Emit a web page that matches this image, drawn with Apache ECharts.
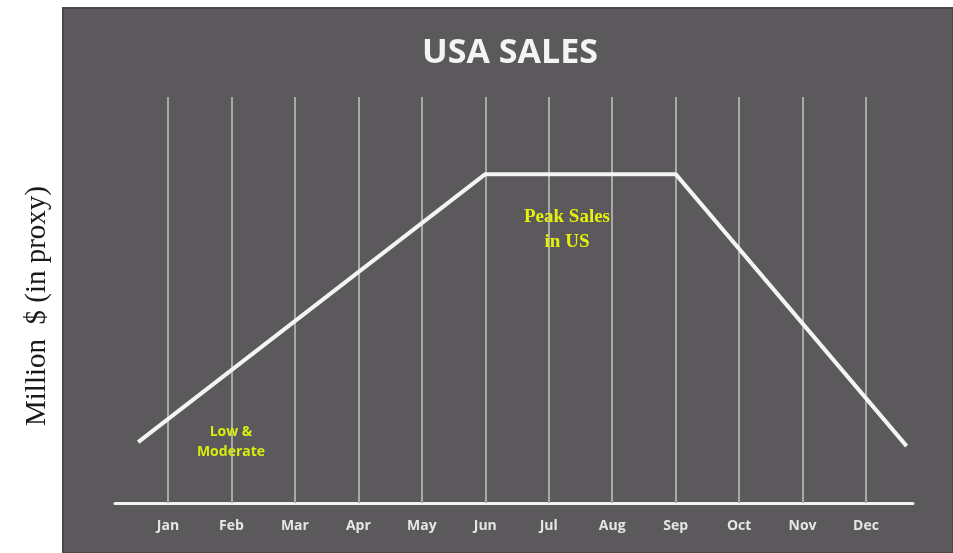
<!DOCTYPE html>
<html>
<head>
<meta charset="utf-8">
<style>
  html, body { margin: 0; padding: 0; background: #ffffff; }
  #chart { width: 953px; height: 553px; }
</style>
<script src="https://cdn.jsdelivr.net/npm/echarts@6/dist/echarts.min.js"></script>
</head>
<body>
<div id="chart"></div>
<script>
// Month labels along the bottom axis
const months = ['Jan', 'Feb', 'Mar', 'Apr', 'May', 'Jun', 'Jul', 'Aug', 'Sep', 'Oct', 'Nov', 'Dec'];
// Month positions (index) where the vertical guides sit
const monthIndex = [0, 1, 2, 3, 4, 5, 6, 7, 8, 9, 10, 11];
// Sales trend: month position (fractional = between months) and proxy value
const trendX = [-0.47, 5, 8, 11.64];
const trendY = [15, 81, 81, 14];

const chart = echarts.init(document.getElementById('chart'), null, { renderer: 'canvas' });

const option = {
  animation: false,
  backgroundColor: '#ffffff',
  graphic: [
    {
      type: 'rect', z: -10,
      shape: { x: 63, y: 8, width: 890, height: 545 },
      style: { fill: '#5b595b', stroke: '#4a484a', lineWidth: 2 }
    },
    {
      type: 'text', z: 10,
      style: {
        x: 510, y: 53, text: 'USA SALES', fill: '#f4f4f4',
        font: 'bold 34px "Open Sans", Lato, sans-serif',
        textAlign: 'center', textVerticalAlign: 'middle'
      }
    },
    {
      type: 'text', z: 10,
      style: {
        x: 567, y: 205, text: 'Peak Sales\nin US', fill: '#e4f20a',
        font: 'bold 19px "Liberation Serif", "DejaVu Serif", serif',
        textAlign: 'center', lineHeight: 25
      }
    },
    {
      type: 'text', z: 10,
      style: {
        x: 231, y: 422, text: 'Low &\nModerate', fill: '#d8ec10',
        font: 'bold 14px "Open Sans", sans-serif',
        textAlign: 'center', lineHeight: 20
      }
    },
    {
      type: 'text', z: 10,
      rotation: Math.PI / 2,
      x: 37, y: 306,
      style: {
        x: 0, y: 0, text: 'Million  $ (in proxy)', fill: '#1a1a1a',
        font: '29px "Liberation Serif", "Times New Roman", serif',
        textAlign: 'center', textVerticalAlign: 'middle'
      }
    }
  ],
  grid: { left: 115, right: 40, top: 97, bottom: 50, containLabel: false },
  xAxis: {
    type: 'value',
    min: -0.835,
    max: 11.74,
    splitLine: { show: false },
    axisTick: { show: false },
    axisLine: { show: true, lineStyle: { color: '#f2f2f2', width: 3 } },
    axisLabel: {
      customValues: monthIndex,
      formatter: function (v) { return months[Math.round(v)]; },
      color: '#e6e6e6',
      fontWeight: 'bold',
      fontSize: 14,
      fontFamily: '"Open Sans", Lato, sans-serif',
      margin: 16
    }
  },
  yAxis: {
    type: 'value', min: 0, max: 100, show: false,
    splitLine: { show: false }
  },
  series: [
    {
      type: 'line',
      data: trendX.map((x, i) => [x, trendY[i]]),
      symbol: 'none',
      lineStyle: { color: '#f4f4f4', width: 4 },
      z: 5,
      markLine: {
        silent: true,
        symbol: ['none', 'none'],
        label: { show: false },
        lineStyle: { color: '#a9a9a9', width: 2, type: 'solid' },
        data: monthIndex.map(i => ({ xAxis: i }))
      }
    }
  ]
};

chart.setOption(option);
</script>
</body>
</html>
